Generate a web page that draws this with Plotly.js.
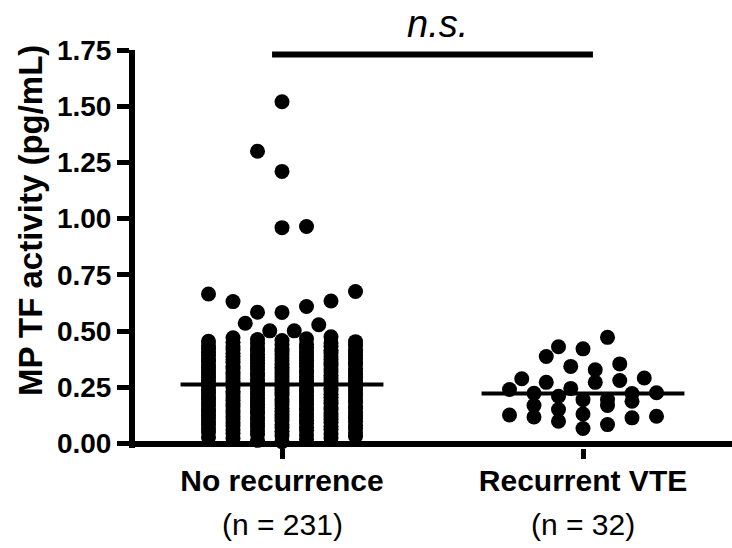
<!DOCTYPE html>
<html>
<head>
<meta charset="utf-8">
<script src="https://cdn.plot.ly/plotly-3.0.1.min.js"></script>
<style>html,body{margin:0;padding:0;background:#fff;}#chart{width:732px;height:548px;}</style>
</head>
<body>
<div id="chart"></div>
<script>
// ---- data ----
const categories = ['No recurrence', 'Recurrent VTE'];

const noRecurrence = [
  0.008, 0.014, 0.019,
  0.022, 0.025, 0.028, 0.031, 0.035, 0.038,
  0.041, 0.043, 0.046, 0.048, 0.051, 0.054, 0.056, 0.059,
  0.061, 0.063, 0.065, 0.068, 0.070, 0.072, 0.074, 0.077, 0.079,
  0.081, 0.083, 0.085, 0.088, 0.090, 0.092, 0.094, 0.097, 0.099,
  0.101, 0.103, 0.105, 0.107, 0.109, 0.111, 0.113, 0.115, 0.117, 0.119,
  0.120, 0.122, 0.124, 0.126, 0.128, 0.131, 0.133, 0.135, 0.137, 0.139,
  0.141, 0.143, 0.145, 0.147, 0.149, 0.150, 0.152, 0.154, 0.156, 0.158,
  0.160, 0.162, 0.164, 0.166, 0.168, 0.171, 0.173, 0.175, 0.177, 0.179,
  0.181, 0.183, 0.185, 0.187, 0.189, 0.190, 0.192, 0.194, 0.196, 0.198,
  0.200, 0.202, 0.204, 0.206, 0.208, 0.211, 0.213, 0.215, 0.217, 0.219,
  0.221, 0.223, 0.225, 0.227, 0.229, 0.230, 0.232, 0.234, 0.236, 0.238,
  0.240, 0.242, 0.244, 0.246, 0.248, 0.251, 0.253, 0.255, 0.257, 0.259,
  0.262, 0.264, 0.266, 0.268, 0.270, 0.271, 0.273, 0.275, 0.277, 0.279,
  0.281, 0.283, 0.285, 0.287, 0.289, 0.291, 0.293, 0.295, 0.297, 0.299,
  0.301, 0.303, 0.305, 0.307, 0.309, 0.310, 0.312, 0.314, 0.316, 0.318,
  0.320, 0.322, 0.324, 0.326, 0.328, 0.331, 0.333, 0.335, 0.337, 0.339,
  0.341, 0.343, 0.345, 0.347, 0.349, 0.351, 0.353, 0.355, 0.357, 0.359,
  0.361, 0.363, 0.365, 0.367, 0.369, 0.370, 0.372, 0.374, 0.376, 0.378,
  0.380, 0.382, 0.384, 0.386, 0.388, 0.391, 0.393, 0.395, 0.397, 0.399,
  0.401, 0.403, 0.405, 0.407, 0.409, 0.411, 0.413, 0.415, 0.417, 0.419,
  0.421, 0.423, 0.425, 0.428, 0.430, 0.432, 0.434, 0.436, 0.439,
  0.441, 0.444, 0.447, 0.450, 0.453, 0.455, 0.458,
  0.462, 0.466, 0.470, 0.475,
  0.501, 0.501, 0.528, 0.535,
  0.583, 0.584, 0.609, 0.631, 0.634, 0.665, 0.676,
  0.960, 0.965, 1.210, 1.300, 1.520
];

const recurrentVTE = [
  0.472, 0.421, 0.430, 0.387, 0.354, 0.343, 0.328, 0.291,
  0.288, 0.280, 0.272, 0.272, 0.245, 0.240, 0.222, 0.210,
  0.223, 0.226, 0.195, 0.195, 0.188, 0.169, 0.169, 0.151,
  0.127, 0.131, 0.118, 0.114, 0.121, 0.099, 0.084, 0.067
];

const yTickVals = [0, 0.25, 0.5, 0.75, 1.0, 1.25, 1.5, 1.75];
const yTickText = ['0.00', '0.25', '0.50', '0.75', '1.00', '1.25', '1.50', '1.75'];
const yTitle = 'MP TF activity (pg/mL)';
const sigText = 'n.s.';

// ---- layout helpers (positions / styles) ----
const FONT = 'Liberation Sans, Arial, Helvetica, sans-serif';
const STEP = 0.0814;      // horizontal spacing of swarm columns (category units)
const MEDIAN_HALF = 0.337;
const SIG_Y = 1.73;
const SIG_PAD = 0.033;

// Prism-like column scatter: sorted values are grouped into short rows,
// each row is spread symmetrically (centre first, then alternating sides).
function swarm(values, center, opts) {
  const sorted = values.slice().sort((a, b) => a - b);
  const xs = [], ys = [];
  let row = [], rowIndex = 0;
  const flush = () => {
    const sign = (rowIndex % 2 === 0 ? 1 : -1) * opts.startSign;
    const n = row.length;
    row.forEach((v, i) => {
      let k;
      if (n % 2 === 1 || n === 2) {
        k = i === 0 ? 0 : (i % 2 === 1 ? (i + 1) / 2 : -(i / 2));
      } else {
        const j = Math.floor(i / 2) + 0.5;
        k = i % 2 === 0 ? j : -j;
      }
      xs.push(center + sign * k * STEP);
      ys.push(v);
    });
    row = [];
    rowIndex++;
  };
  sorted.forEach(v => {
    if (row.length) {
      const prev = row[row.length - 1];
      const gap = v - prev;
      const meanGap = row.length > 1 ? (prev - row[0]) / (row.length - 1) : 0;
      if (row.length >= opts.maxPerRow || v - row[0] > opts.maxSpan ||
          (row.length >= 3 && gap > Math.max(0.015, 3 * meanGap)) || gap > 0.2) flush();
    }
    row.push(v);
  });
  if (row.length) flush();
  return {xs, ys};
}

function median(arr) {
  const s = arr.slice().sort((a, b) => a - b);
  const m = Math.floor(s.length / 2);
  return s.length % 2 ? s[m] : (s[m - 1] + s[m]) / 2;
}

const groups = [noRecurrence, recurrentVTE];
const swarmOpts = [
  {maxPerRow: 7, maxSpan: 0.1, startSign: -1},
  {maxPerRow: 7, maxSpan: 0.061, startSign: 1}
];

const traces = [];
groups.forEach((vals, gi) => {
  const sw = swarm(vals, gi, swarmOpts[gi]);
  traces.push({
    type: 'scatter', mode: 'markers', x: sw.xs, y: sw.ys,
    marker: {color: '#000', size: 15, line: {width: 0}},
    cliponaxis: false, hoverinfo: 'skip'
  });
});
groups.forEach((vals, gi) => {
  const med = median(vals);
  traces.push({
    type: 'scatter', mode: 'lines',
    x: [gi - MEDIAN_HALF, gi + MEDIAN_HALF], y: [med, med],
    line: {color: '#000', width: 4}, cliponaxis: false, hoverinfo: 'skip'
  });
});
traces.push({
  type: 'scatter', mode: 'lines',
  x: [0 - SIG_PAD, 1 + SIG_PAD], y: [SIG_Y, SIG_Y],
  line: {color: '#000', width: 6}, cliponaxis: false, hoverinfo: 'skip'
});

const layout = {
  width: 732, height: 548,
  margin: {l: 135, r: 0, t: 49.5, b: 99.5, pad: 0},
  paper_bgcolor: '#fff', plot_bgcolor: '#fff',
  showlegend: false,
  font: {family: FONT, color: '#000'},
  xaxis: {
    range: [-0.4884, 1.495],
    tickmode: 'array', tickvals: [0, 1], ticktext: categories,
    ticks: 'outside', ticklen: 10, tickwidth: 5, tickcolor: '#000',
    ticklabelstandoff: -4,
    showline: false, showgrid: false, zeroline: false,
    tickfont: {family: FONT, size: 30, weight: 'bold', color: '#000'}
  },
  yaxis: {
    range: [-0.02, 1.75],
    tickmode: 'array', tickvals: yTickVals, ticktext: yTickText,
    ticks: 'outside', ticklen: 12, tickwidth: 5, tickcolor: '#000',
    showline: true, linewidth: 6, linecolor: '#000',
    showgrid: false, zeroline: true, zerolinewidth: 6, zerolinecolor: '#000',
    tickfont: {family: FONT, size: 28, weight: 'bold', color: '#000'}
  },
  annotations: [
    {text: sigText, xref: 'x', yref: 'paper', x: 0.5, y: 1.065, xshift: 5,
     xanchor: 'center', yanchor: 'middle', showarrow: false,
     font: {family: FONT, size: 38, style: 'italic', color: '#000'}},
    {text: yTitle, xref: 'paper', yref: 'paper', x: -0.1759, y: 0.5727,
     xanchor: 'center', yanchor: 'middle', textangle: -90, showarrow: false,
     font: {family: FONT, size: 33, weight: 'bold', color: '#000'}}
  ].concat(groups.map((vals, gi) => ({
     text: '(n = ' + vals.length + ')', xref: 'x', yref: 'paper', x: gi, y: -0.1917,
     xanchor: 'center', yanchor: 'middle', showarrow: false,
     font: {family: FONT, size: 30, color: '#000'}
  })))
};

Plotly.newPlot('chart', traces, layout, {displayModeBar: false, staticPlot: true});
</script>
</body>
</html>
